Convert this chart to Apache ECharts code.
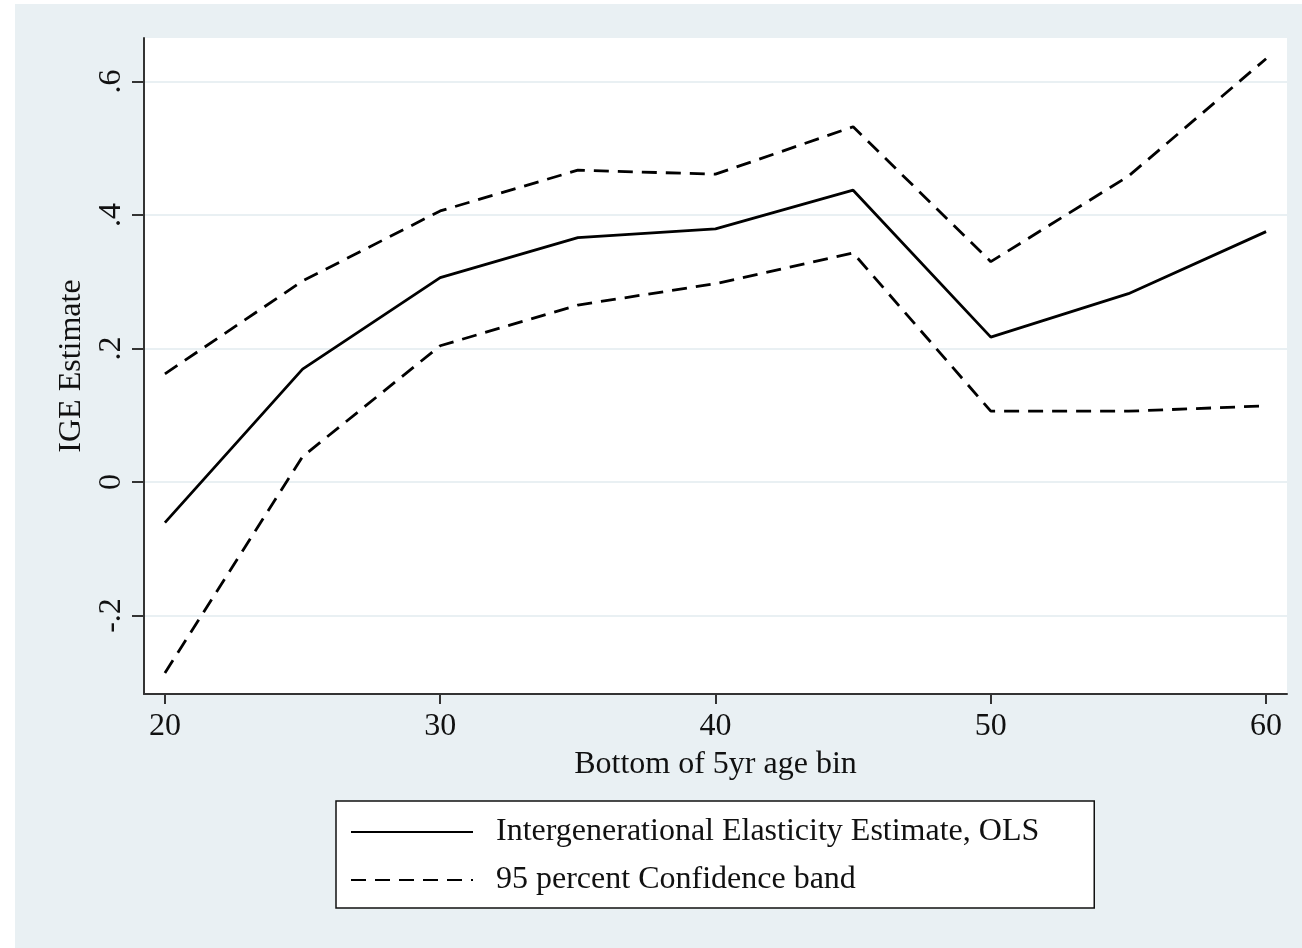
<!DOCTYPE html>
<html>
<head>
    <meta charset="utf-8">
    <title>IGE by age bin</title>
    <script src="https://cdn.jsdelivr.net/npm/echarts@6/dist/echarts.min.js"></script>
    <style>
        html, body { margin: 0; padding: 0; background: #fff; }
        #box { width: 1302px; height: 948px; }
    </style>
</head>
<body>
    <div id="box"></div>
    <script>
        // bottom of each 5yr age bin
        var ageBins = [20, 25, 30, 35, 40, 45, 50, 55, 60];
        var igeEstimate = [-0.061, 0.169, 0.306, 0.366, 0.379, 0.437, 0.217, 0.282, 0.375];
        var upperBand = [0.162, 0.301, 0.406, 0.467, 0.461, 0.532, 0.330, 0.458, 0.634];
        var lowerBand = [-0.286, 0.038, 0.204, 0.265, 0.297, 0.343, 0.106, 0.106, 0.114];
        var xTicks = [20, 30, 40, 50, 60];
        var yTicks = [-0.2, 0, 0.2, 0.4, 0.6];

        var estName = 'Intergenerational Elasticity Estimate, OLS';
        var bandName = '95 percent Confidence band';

        function pairs(ys) {
            return ageBins.map(function (x, i) { return [x, ys[i]]; });
        }
        // stata style: ".4", "-.2", "0"
        function stataNum(v) {
            if (Math.abs(v) < 1e-9) return '0';
            var s = String(Math.round(v * 10) / 10);
            return s.replace('0.', '.');
        }

        var serif = 'Liberation Serif';
        var fs = 32;
        var myChart = echarts.init(document.getElementById('box'));
        var option = {
            backgroundColor: '#fff',
            animation: false,
            graphic: [{
                type: 'rect', z: -10,
                shape: { x: 15, y: 4, width: 1302, height: 960 },
                style: { fill: '#e9f0f3' }
            }],
            grid: { left: 144, top: 38, right: 15, bottom: 254,
                    show: true, backgroundColor: '#fff', borderWidth: 0 },
            xAxis: {
                type: 'value',
                min: 19.24, max: 60.76,
                name: 'Bottom of 5yr age bin',
                nameLocation: 'middle',
                nameGap: 55,
                nameTextStyle: { fontFamily: serif, fontSize: fs, color: '#111' },
                axisLine: { show: true, onZero: false, lineStyle: { color: '#333', width: 2 } },
                axisTick: { show: true, customValues: xTicks, length: 10, lineStyle: { color: '#333', width: 2 } },
                axisLabel: { customValues: xTicks, margin: 17, fontFamily: serif, fontSize: fs, color: '#111' },
                splitLine: { show: false }
            },
            yAxis: {
                type: 'value',
                min: -0.3176, max: 0.665,
                name: 'IGE Estimate',
                nameLocation: 'middle',
                nameGap: 56,
                nameTextStyle: { fontFamily: serif, fontSize: fs, color: '#111' },
                axisLine: { show: true, onZero: false, lineStyle: { color: '#333', width: 2 } },
                axisTick: { show: true, customValues: yTicks, length: 12, lineStyle: { color: '#333', width: 2 } },
                axisLabel: { customValues: yTicks, rotate: 90, margin: 16, fontFamily: serif, fontSize: fs, color: '#111',
                             formatter: stataNum },
                splitLine: { show: true, lineStyle: { color: '#e9f0f3', width: 2 } }
            },
            legend: {
                left: 336, top: 801,
                orient: 'vertical',
                data: [estName, bandName],
                itemWidth: 122, itemHeight: 32, itemGap: 16,
                padding: [15, 55, 12, 14],
                backgroundColor: '#fff',
                borderColor: '#111', borderWidth: 1.5,
                itemStyle: { opacity: 0 },
                textStyle: { fontFamily: serif, fontSize: fs, color: '#111', padding: [0, 0, 0, 18] }
            },
            series: [{
                name: estName,
                type: 'line',
                data: pairs(igeEstimate),
                symbol: 'none',
                lineStyle: { color: '#000', width: 2.8 },
                itemStyle: { color: '#000' }
            }, {
                name: bandName,
                type: 'line',
                data: pairs(upperBand),
                symbol: 'none',
                lineStyle: { color: '#000', width: 2.8, type: [15, 9] },
                itemStyle: { color: '#000' }
            }, {
                name: bandName,
                type: 'line',
                data: pairs(lowerBand),
                symbol: 'none',
                lineStyle: { color: '#000', width: 2.8, type: [15, 9] },
                itemStyle: { color: '#000' }
            }]
        };
        myChart.setOption(option);
    </script>
</body>
</html>
